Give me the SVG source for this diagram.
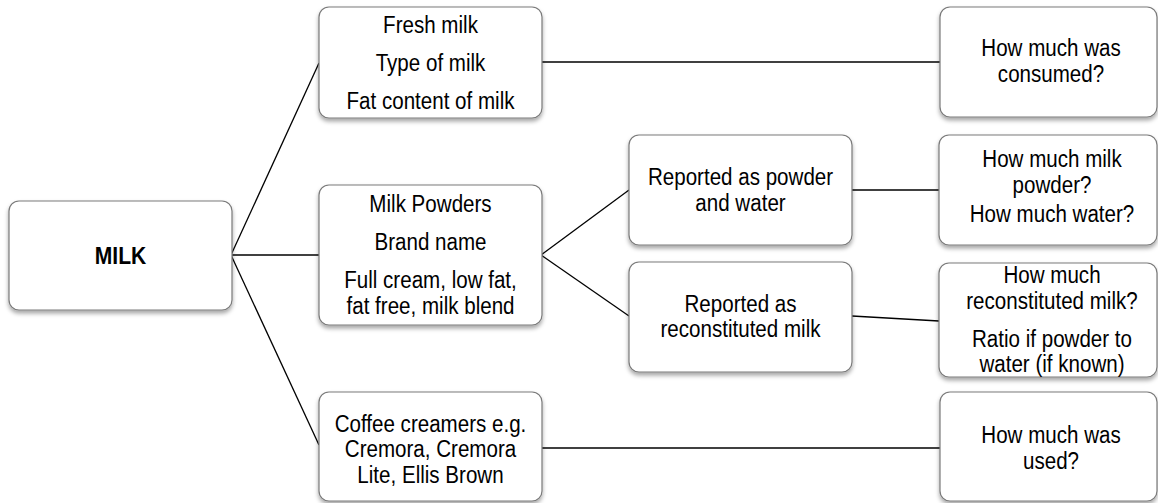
<svg xmlns="http://www.w3.org/2000/svg" width="1158" height="503" viewBox="0 0 1158 503">
<defs>
<filter id="sh" x="-10%" y="-10%" width="120%" height="130%">
<feDropShadow dx="0" dy="3" stdDeviation="2" flood-color="#000" flood-opacity="0.35"/>
</filter>
</defs>
<style>
.box{fill:#fff;stroke:#7a7a7a;stroke-width:1.2;filter:url(#sh)}
.t{font-family:"Liberation Sans",Arial,sans-serif;font-size:24.5px;fill:#000;text-anchor:middle}
.b{font-weight:bold}
.ln{stroke:#000;stroke-width:1.3;fill:none}
</style>
<g id="connectors">
<line class="ln" x1="231" y1="255" x2="319" y2="63"/>
<line class="ln" x1="231" y1="255" x2="319" y2="255"/>
<line class="ln" x1="231" y1="255" x2="319" y2="445"/>
<line class="ln" x1="542" y1="62" x2="940" y2="62"/>
<line class="ln" x1="541" y1="255" x2="629" y2="190"/>
<line class="ln" x1="541" y1="255" x2="629" y2="316"/>
<line class="ln" x1="852" y1="190" x2="939" y2="190"/>
<line class="ln" x1="852" y1="316" x2="939" y2="321"/>
<line class="ln" x1="542" y1="448" x2="940" y2="448"/>
</g>
<g id="milk">
<rect class="box" x="9" y="201" width="223" height="109" rx="10"/>
<g transform="translate(120.5 0) scale(0.86 1)"><text class="t b" x="0" y="264">MILK</text></g>
</g>
<g id="fresh">
<rect class="box" x="319" y="7" width="223" height="111" rx="10"/>
<g transform="translate(430.5 0) scale(0.84 1)">
<text class="t" x="0" y="33">Fresh milk</text>
<text class="t" x="0" y="71">Type of milk</text>
<text class="t" x="0" y="109">Fat content of milk</text>
</g>
</g>
<g id="powders">
<rect class="box" x="319" y="185" width="223" height="140" rx="10"/>
<g transform="translate(430.5 0) scale(0.84 1)">
<text class="t" x="0" y="212">Milk Powders</text>
<text class="t" x="0" y="250">Brand name</text>
<text class="t" x="0" y="288">Full cream, low fat,</text>
<text class="t" x="0" y="314">fat free, milk blend</text>
</g>
</g>
<g id="creamers">
<rect class="box" x="319" y="392" width="223" height="109" rx="10"/>
<g transform="translate(430.5 0) scale(0.84 1)">
<text class="t" x="0" y="432">Coffee creamers e.g.</text>
<text class="t" x="0" y="457">Cremora, Cremora</text>
<text class="t" x="0" y="483">Lite, Ellis Brown</text>
</g>
</g>
<g id="powder-water">
<rect class="box" x="629" y="135" width="223" height="110" rx="10"/>
<g transform="translate(740.5 0) scale(0.84 1)">
<text class="t" x="0" y="185">Reported as powder</text>
<text class="t" x="0" y="211">and water</text>
</g>
</g>
<g id="reconstituted">
<rect class="box" x="629" y="262" width="223" height="110" rx="10"/>
<g transform="translate(740.5 0) scale(0.84 1)">
<text class="t" x="0" y="312">Reported as</text>
<text class="t" x="0" y="337">reconstituted milk</text>
</g>
</g>
<g id="consumed">
<rect class="box" x="940" y="7" width="217" height="110" rx="10"/>
<g transform="translate(1051 0) scale(0.84 1)">
<text class="t" x="0" y="56">How much was</text>
<text class="t" x="0" y="82">consumed?</text>
</g>
</g>
<g id="howmuch-powder">
<rect class="box" x="939" y="135" width="218" height="110" rx="10"/>
<g transform="translate(1052 0) scale(0.84 1)">
<text class="t" x="0" y="167">How much milk</text>
<text class="t" x="0" y="193">powder?</text>
<text class="t" x="0" y="222">How much water?</text>
</g>
</g>
<g id="howmuch-recon">
<rect class="box" x="939" y="263" width="218" height="114" rx="10"/>
<g transform="translate(1052 0) scale(0.84 1)">
<text class="t" x="0" y="283">How much</text>
<text class="t" x="0" y="309">reconstituted milk?</text>
<text class="t" x="0" y="347">Ratio if powder to</text>
<text class="t" x="0" y="372">water (if known)</text>
</g>
</g>
<g id="used">
<rect class="box" x="940" y="392" width="217" height="109" rx="10"/>
<g transform="translate(1051 0) scale(0.84 1)">
<text class="t" x="0" y="443">How much was</text>
<text class="t" x="0" y="469">used?</text>
</g>
</g>
</svg>
